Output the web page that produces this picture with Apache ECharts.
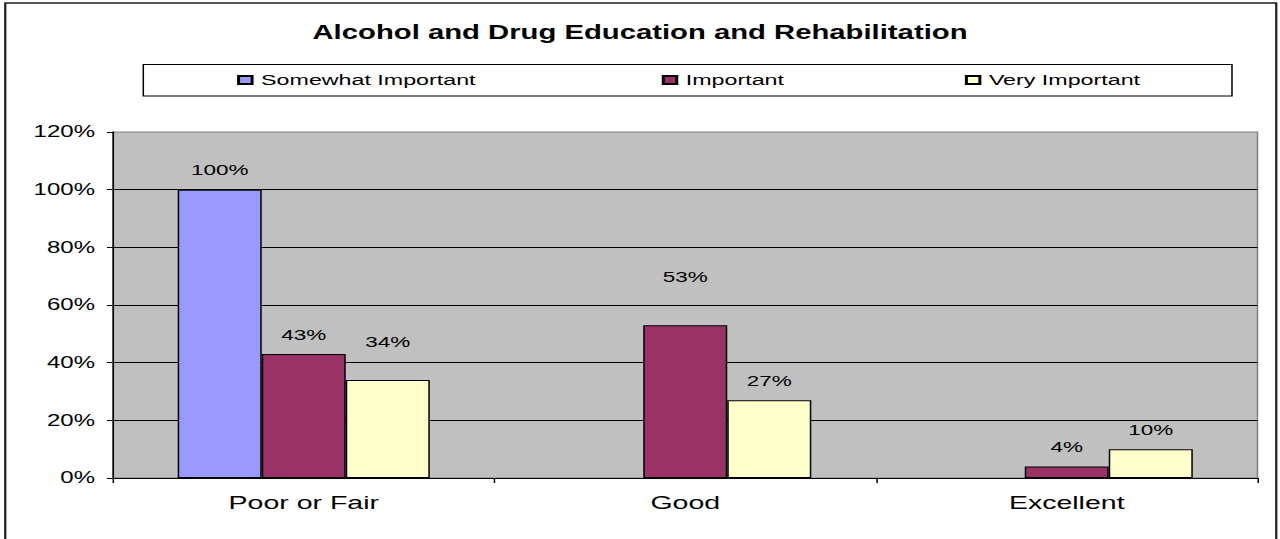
<!DOCTYPE html>
<html>
<head>
<meta charset="utf-8">
<title>Alcohol and Drug Education and Rehabilitation</title>
<script src="https://cdn.jsdelivr.net/npm/echarts@6/dist/echarts.min.js"></script>
<style>
  html, body { margin: 0; padding: 0; background: #ffffff; overflow: hidden; }
  /* The chart is laid out on a narrower canvas and widened to the window,
     which gives the stretched lettering of the original report graphic. */
  #chart {
    width: 853px;
    height: 539px;
    transform: scaleX(1.50059);
    transform-origin: 0 0;
  }
</style>
</head>
<body>
<div id="chart"></div>
<script>
// Ratings of the service, grouped by how important respondents considered it
const categories = ['Poor or Fair', 'Good', 'Excellent'];
const seriesNames = ['Somewhat Important', 'Important', 'Very Important'];
const somewhatImportant = [1.00, null, null];
const important = [0.43, 0.53, 0.04];
const veryImportant = [0.34, 0.27, 0.10];
const yTicks = [0, 0.2, 0.4, 0.6, 0.8, 1.0, 1.2];

const seriesValues = [somewhatImportant, important, veryImportant];
const seriesColors = ['#9999FF', '#993366', '#FFFFCC'];

const FONT = "'Liberation Sans', Arial, sans-serif";
const pct = v => Math.round(v * 100) + '%';

// A couple of value labels sit higher above their bars
const labelLift = {
  'Very Important|Poor or Fair': 31,
  'Important|Good': 41
};

const series = seriesNames.map((name, s) => ({
  name: name,
  type: 'bar',
  barWidth: 56,
  barGap: '0%',
  itemStyle: { color: seriesColors[s], borderColor: '#000000', borderWidth: 1 },
  label: {
    show: true,
    position: 'top',
    distance: 12,
    color: '#000000',
    fontFamily: FONT,
    fontSize: 15,
    formatter: p => pct(p.value)
  },
  data: seriesValues[s].map((v, i) => {
    const key = name + '|' + categories[i];
    const item = { value: v };
    if (labelLift[key]) item.label = { distance: labelLift[key] };
    return item;
  })
}));

// Legend entries are placed individually inside the framed legend box
const legendLefts = [153, 436, 638];
const legends = seriesNames.map((name, s) => ({
  data: [{ name: name, icon: 'rect' }],
  left: legendLefts[s],
  top: 67,
  itemWidth: 9,
  itemHeight: 8,
  itemGap: 0,
  selectedMode: false,
  textStyle: { fontFamily: FONT, fontSize: 15.5, color: '#000000', padding: [0, 0, 0, 1] }
}));

const chart = echarts.init(document.getElementById('chart'), null, {
  renderer: 'svg', width: 853, height: 539
});

chart.setOption({
  animation: false,
  backgroundColor: '#ffffff',
  title: {
    text: 'Alcohol and Drug Education and Rehabilitation',
    left: 'center',
    top: 17,
    textStyle: { fontFamily: FONT, fontWeight: 'bold', fontSize: 19.5, color: '#000000' }
  },
  legend: legends,
  graphic: [
    {
      type: 'rect',
      silent: true,
      z: -10,
      shape: { x: 3.5, y: 3, width: 847, height: 560 },
      style: { fill: 'none', stroke: '#222222', lineWidth: 1.5 }
    },
    {
      type: 'rect',
      silent: true,
      z: -5,
      shape: { x: 95.5, y: 64.5, width: 725.5, height: 31.5 },
      style: { fill: '#ffffff', stroke: '#000000', lineWidth: 1 }
    }
  ],
  grid: {
    left: 75.3,
    right: 15,
    top: 132,
    bottom: 61,
    show: true,
    backgroundColor: '#C0C0C0',
    borderColor: '#808080',
    borderWidth: 1
  },
  xAxis: {
    type: 'category',
    data: categories,
    boundaryGap: true,
    axisLine: { lineStyle: { color: '#000000', width: 1 } },
    axisTick: { show: true, length: 5, lineStyle: { color: '#000000' } },
    axisLabel: { color: '#000000', fontFamily: FONT, fontSize: 19, margin: 15 }
  },
  yAxis: {
    type: 'value',
    min: yTicks[0],
    max: yTicks[yTicks.length - 1],
    interval: 0.2,
    axisLine: { show: true, lineStyle: { color: '#000000', width: 1 } },
    axisTick: { show: true, length: 4, lineStyle: { color: '#000000' } },
    axisLabel: { color: '#000000', fontFamily: FONT, fontSize: 16, margin: 12, formatter: v => pct(v) },
    splitLine: { show: true, showMaxLine: false, lineStyle: { color: '#000000', width: 1 } }
  },
  series: series
});
</script>
</body>
</html>
